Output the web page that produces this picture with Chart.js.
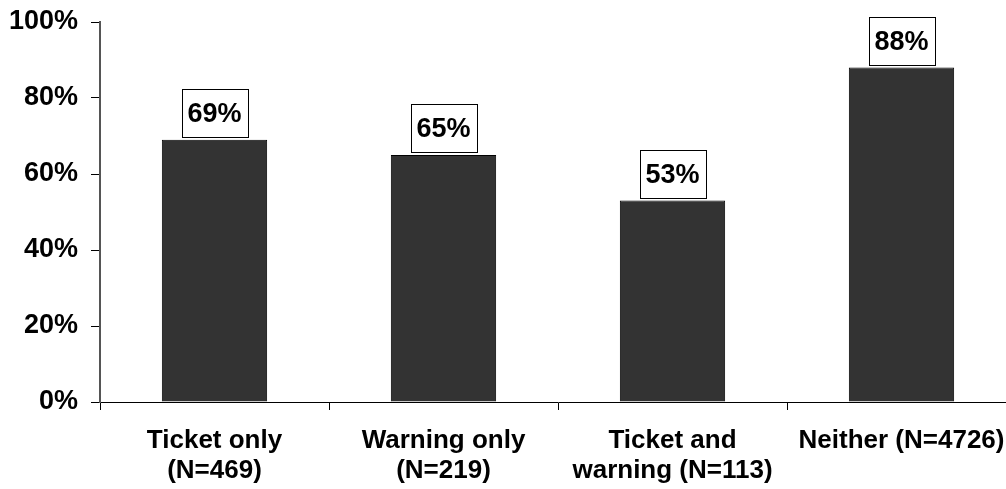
<!DOCTYPE html>
<html>
<head>
<meta charset="utf-8">
<script src="https://cdn.jsdelivr.net/npm/chart.js@4/dist/chart.umd.min.js"></script>
<style>
    html, body { margin: 0; padding: 0; background: #fff; overflow: hidden; }
    #wrap { width: 1016px; height: 489px; position: relative; }
</style>
</head>
<body>
<div id="wrap"><canvas id="respectChart"></canvas></div>
<script>
const categories = [
    ["Ticket only", "(N=469)"],
    ["Warning only", "(N=219)"],
    ["Ticket and", "warning (N=113)"],
    "Neither (N=4726)",
];
const percentValues = [69, 65, 53, 88];
const yTickValues = [0, 20, 40, 60, 80, 100];

const yFont = { family: "Liberation Sans, Arial, sans-serif", size: 27, weight: "bold" };
const xFont = { family: "Liberation Sans, Arial, sans-serif", size: 26, weight: "bold", lineHeight: 1.18 };

// boxed value labels above each bar
const boxLabels = {
    id: "boxLabels",
    afterDatasetsDraw(chart) {
        const ctx = chart.ctx;
        const meta = chart.getDatasetMeta(0);
        ctx.save();
        ctx.font = "bold 27px 'Liberation Sans', Arial, sans-serif";
        ctx.textAlign = "center";
        ctx.textBaseline = "middle";
        meta.data.forEach(function (bar, i) {
            const w = 66, h = 48;
            const left = Math.round(bar.x - w / 2) + 0.5;
            const top = Math.round(bar.y - 3 - h) + 0.5;
            ctx.fillStyle = "#fff";
            ctx.fillRect(left, top, w, h);
            ctx.strokeStyle = "#000";
            ctx.lineWidth = 1;
            ctx.strokeRect(left, top, w, h);
            ctx.fillStyle = "#000";
            ctx.fillText(percentValues[i] + "%", bar.x, top + h / 2 + 1);
        });
        ctx.restore();
    },
};

const chartCtx = document.getElementById("respectChart").getContext("2d");
new Chart(chartCtx, {
    type: "bar",
    data: {
        labels: categories,
        datasets: [
            {
                data: percentValues,
                backgroundColor: "#333333",
                borderColor: "#000",
                borderWidth: 1,
                barPercentage: 0.46,
                categoryPercentage: 1,
            },
        ],
    },
    options: {
        responsive: true,
        maintainAspectRatio: false,
        animation: false,
        layout: { autoPadding: false, padding: { top: 22, right: 0, left: 0, bottom: 0 } },
        plugins: {
            legend: { display: false },
            tooltip: { enabled: false },
            title: { display: false },
        },
        scales: {
            x: {
                grid: {
                    offset: true,
                    drawOnChartArea: false,
                    tickLength: 8,
                    color: "#000",
                },
                border: { color: "#000", width: 1 },
                ticks: {
                    color: "#000",
                    font: xFont,
                    padding: 15,
                    maxRotation: 0,
                    autoSkip: false,
                },
                afterFit(scale) {
                    scale.height = 87;
                    scale.paddingLeft = 0;
                    scale.paddingRight = 0;
                },
            },
            y: {
                min: 0,
                max: 100,
                afterBuildTicks(scale) {
                    scale.ticks = yTickValues.map(function (v) { return { value: v }; });
                },
                grid: {
                    drawOnChartArea: false,
                    tickLength: 9,
                    color: "#000",
                },
                border: { color: "#555", width: 2 },
                ticks: {
                    color: "#000",
                    font: yFont,
                    padding: 13,
                    callback: function (v) { return v + "%"; },
                },
                afterFit(scale) {
                    scale.width = 100;
                    scale.paddingTop = 0;
                    scale.paddingBottom = 0;
                },
            },
        },
    },
    plugins: [boxLabels],
});
</script>
</body>
</html>
